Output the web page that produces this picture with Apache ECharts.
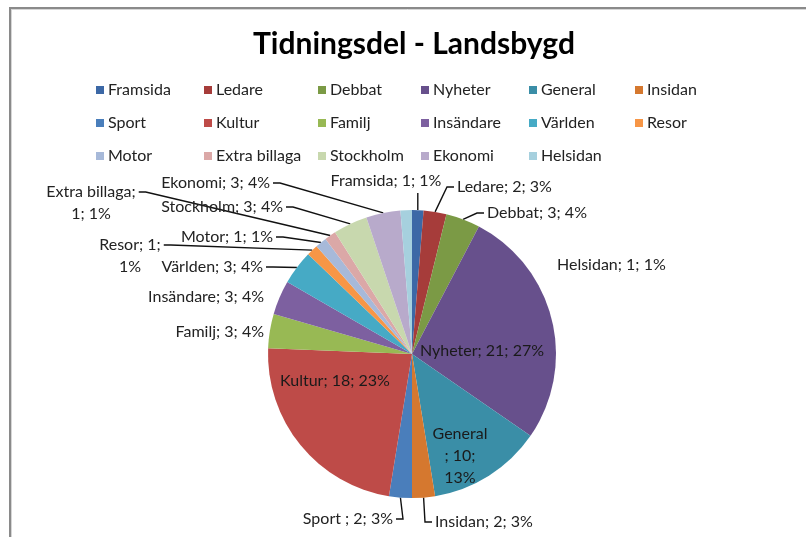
<!DOCTYPE html>
<html>
<head>
<meta charset="utf-8">
<title>Tidningsdel - Landsbygd</title>
<script src="https://cdn.jsdelivr.net/npm/echarts@6/dist/echarts.min.js"></script>
<style>
  html, body { margin: 0; padding: 0; background: #fff; }
  #chart { width: 806px; height: 537px; }
</style>
</head>
<body>
<div id="chart"></div>
<script>
// tårtbitarna i Excels ordning, medurs från kl 12
const sections = ['Framsida', 'Ledare', 'Debbat', 'Nyheter', 'General', 'Insidan',
  'Sport ', 'Kultur', 'Familj', 'Insändare', 'Världen', 'Resor',
  'Motor', 'Extra billaga', 'Stockholm', 'Ekonomi', 'Helsidan'];
const counts = [1, 2, 3, 21, 10, 2, 2, 18, 3, 3, 3, 1, 1, 1, 3, 3, 1];

const colors = ['#3c68a6', '#a63c3a', '#7b9a45', '#67508c', '#3a8ea7', '#d5782f',
  '#4a7ebb', '#be4b48', '#98b954', '#7d60a0', '#46aac5', '#f79646',
  '#a7b9d9', '#dba8a7', '#c8d8ae', '#b8aacb', '#a6d0de'];

const FONT = 'Lato';
const total = counts.reduce((a, b) => a + b, 0);

// etiketter som bryts på flera rader
const labelText = {
  'General': '{b}\n; {c};\n{d}%',
  'Resor': '{b}; {c};\n{d}%',
  'Extra billaga': '{b};\n{c}; {d}%'
};
// etiketter inne i tårtan / utan hänvisningslinje
const innerLabels = ['Nyheter', 'Kultur', 'General'];
const noLine = ['Helsidan', 'Familj', 'Insändare'];

// etikettplacering: [x, y (mitt), align]
const labelSpots = {
  'Framsida': [386, 181, 'center'],
  'Ledare': [457, 187, 'left'],
  'Debbat': [487, 213, 'left'],
  'Nyheter': [482, 351, 'center'],
  'General': [460, 456, 'center'],
  'Insidan': [435, 522, 'left'],
  'Sport ': [393, 519, 'right'],
  'Kultur': [335, 381, 'center'],
  'Familj': [264, 332, 'right'],
  'Insändare': [264, 297, 'right'],
  'Världen': [263, 267, 'right'],
  'Resor': [130, 256, 'center'],
  'Motor': [273, 237, 'right'],
  'Extra billaga': [91, 203, 'center'],
  'Stockholm': [283, 207, 'right'],
  'Ekonomi': [270, 183, 'right'],
  'Helsidan': [557, 265, 'left']
};

// förklaringens rutnät
const legendCols = [96, 204, 318, 421, 529, 635];
const legendRows = [89, 122, 155];

const chart = echarts.init(document.getElementById('chart'));

const legends = sections.map((name, i) => ({
  data: [name],
  left: legendCols[i % 6],
  top: legendRows[Math.floor(i / 6)] - 7,
  padding: 0,
  icon: 'rect',
  itemWidth: 8,
  itemHeight: 8,
  selectedMode: false,
  textStyle: { fontFamily: FONT, fontSize: 16, color: '#222', padding: [0, 0, 0, -1] }
}));

function placeLabel(p) {
  const spot = labelSpots[sections[p.dataIndex]];
  if (!spot) return {};
  const w = p.labelRect.width, h = p.labelRect.height;
  const left = spot[2] === 'left' ? spot[0] : spot[2] === 'right' ? spot[0] - w : spot[0] - w / 2;
  const top = spot[1] - h / 2;
  const out = { x: spot[0], y: spot[1], align: spot[2], verticalAlign: 'middle' };
  const pts = p.labelLinePoints;
  if (pts && pts.length) {
    const a = pts[0];
    const nLines = String(p.text).split('\n').length;
    const lineY = top + h / nLines / 2;
    if (a[0] > left + w) {
      const e = [left + w + 3, lineY];
      out.labelLinePoints = [a, [e[0] + 7, lineY], e];
    } else if (a[0] < left) {
      const e = [left - 3, lineY];
      out.labelLinePoints = [a, [e[0] - 7, lineY], e];
    } else {
      const ey = a[1] > top + h ? top + h + 1 : top - 1;
      out.labelLinePoints = [a, [a[0], (a[1] + ey) / 2], [a[0], ey]];
    }
  }
  return out;
}

const option = {
  animation: false,
  color: colors,
  title: {
    text: 'Tidningsdel - Landsbygd',
    left: 253,
    top: 29,
    padding: 0,
    textStyle: { fontFamily: FONT, fontSize: 30, fontWeight: 'bold', color: '#000' }
  },
  legend: legends,
  graphic: [
    { type: 'line', shape: { x1: 9, y1: 8, x2: 806, y2: 8 }, style: { stroke: '#8a8a8a', lineWidth: 2 } },
    { type: 'line', shape: { x1: 9, y1: 9.5, x2: 806, y2: 9.5 }, style: { stroke: '#d6d6d6', lineWidth: 1 } },
    { type: 'line', shape: { x1: 10, y1: 8, x2: 10, y2: 537 }, style: { stroke: '#8a8a8a', lineWidth: 2 } },
    { type: 'line', shape: { x1: 11.5, y1: 9, x2: 11.5, y2: 537 }, style: { stroke: '#d6d6d6', lineWidth: 1 } }
  ],
  series: [{
    type: 'pie',
    center: [412, 354],
    radius: 144,
    startAngle: 90,
    clockwise: true,
    avoidLabelOverlap: false,
    emphasis: { disabled: true },
    itemStyle: { borderWidth: 0 },
    label: {
      fontFamily: FONT,
      fontSize: 16,
      color: '#222',
      lineHeight: 22,
      formatter: p => (labelText[p.name] || '{b}; {c}; {d}%')
        .replace('{b}', p.name)
        .replace('{c}', p.value)
        .replace('{d}', Math.round(p.value / total * 100))
    },
    labelLine: { show: true, length: 10, length2: 8, lineStyle: { color: '#111', width: 1.4 } },
    labelLayout: placeLabel,
    data: sections.map((name, i) => ({
      name: name,
      value: counts[i],
      label: innerLabels.includes(name) ? { position: 'inner', color: '#1a1a1a' } : undefined,
      labelLine: noLine.includes(name) || innerLabels.includes(name) ? { show: false } : undefined
    }))
  }]
};

chart.setOption(option);
</script>
</body>
</html>
